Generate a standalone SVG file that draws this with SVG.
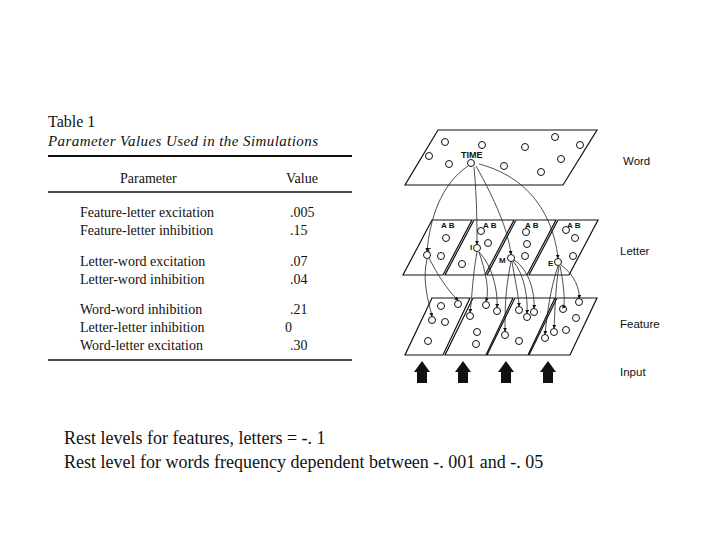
<svg xmlns="http://www.w3.org/2000/svg" width="720" height="540" viewBox="0 0 720 540">
<style>
.t{font-family:"Liberation Serif",serif;fill:#111}
.s{font-family:"Liberation Sans",Arial,sans-serif;fill:#111}
.p{fill:none;stroke:#111;stroke-width:1.2}
.c{fill:#fff;stroke:#111;stroke-width:1}
.k{fill:none;stroke:#222;stroke-width:0.8}
</style>
<defs><marker id="a" markerWidth="5" markerHeight="5" refX="4" refY="2.5" orient="auto"><path d="M0,0L5,2.5L0,5z" fill="#111"/></marker>
<path id="arr" d="M-8,0L0,-11L8,0L5,0L5,11L-5,11L-5,0z" fill="#111"/></defs>
<rect width="720" height="540" fill="#fff"/>
<g id="table">
<text class="t" x="48" y="127" font-size="16">Table 1</text>
<text class="t" x="48" y="146" font-size="15" font-style="italic" textLength="270">Parameter Values Used in the Simulations</text>
<line x1="48" y1="156" x2="352" y2="156" stroke="#111" stroke-width="2"/>
<text class="t" x="120" y="183" font-size="14">Parameter</text>
<text class="t" x="286" y="183" font-size="14">Value</text>
<line x1="48" y1="192" x2="352" y2="192" stroke="#111" stroke-width="1.5"/>
<g font-size="14">
<text class="t" x="80" y="217">Feature-letter excitation</text><text class="t" x="290" y="217">.005</text>
<text class="t" x="80" y="235">Feature-letter inhibition</text><text class="t" x="290" y="235">.15</text>
<text class="t" x="80" y="266">Letter-word excitation</text><text class="t" x="290" y="266">.07</text>
<text class="t" x="80" y="284">Letter-word inhibition</text><text class="t" x="290" y="284">.04</text>
<text class="t" x="80" y="314">Word-word inhibition</text><text class="t" x="290" y="314">.21</text>
<text class="t" x="80" y="332">Letter-letter inhibition</text><text class="t" x="285" y="332">0</text>
<text class="t" x="80" y="350">Word-letter excitation</text><text class="t" x="290" y="350">.30</text>
</g>
<line x1="48" y1="360" x2="352" y2="360" stroke="#111" stroke-width="1.5"/>
</g>
<g id="word">
<path class="p" d="M438,130L597,130L563,185L405,185z"/>
<g class="c"><circle cx="445" cy="142" r="3.5"/><circle cx="429" cy="156" r="3.5"/><circle cx="449" cy="164" r="3.5"/><circle cx="482" cy="145" r="3.5"/><circle cx="525" cy="147" r="3.5"/><circle cx="555" cy="137" r="3.5"/><circle cx="580" cy="145" r="3.5"/><circle cx="561" cy="159" r="3.5"/><circle cx="504" cy="166" r="3.5"/><circle cx="541" cy="172" r="3.5"/><circle cx="471" cy="163" r="3.5"/></g>
<text class="s" x="461" y="158" font-size="9" font-weight="bold">TIME</text>
<text class="s" x="623" y="165" font-size="11.5">Word</text>
</g>
<g id="letter">
<g class="p"><path d="M432,220L472,220L443,275L403,275z"/><path d="M474,220L514,220L485,275L445,275z"/><path d="M516,220L556,220L527,275L487,275z"/><path d="M558,220L598,220L569,275L529,275z"/></g>
<g class="s" font-size="8" font-weight="bold"><text x="441" y="228">A B</text><text x="483" y="228">A B</text><text x="525" y="228">A B</text><text x="567" y="228">A B</text>
<text x="426" y="253">T</text><text x="470" y="250">I</text><text x="499" y="263">M</text><text x="548" y="266">E</text></g>
<g class="c"><circle cx="427" cy="255" r="3.5"/><circle cx="446" cy="238" r="3.5"/><circle cx="441" cy="256" r="3.5"/><circle cx="477" cy="248" r="3.5"/><circle cx="481" cy="231" r="3.5"/><circle cx="488" cy="243" r="3.5"/><circle cx="462" cy="264" r="3.5"/><circle cx="511" cy="258" r="3.5"/><circle cx="526" cy="232" r="3.5"/><circle cx="527" cy="244" r="3.5"/><circle cx="525" cy="256" r="3.5"/><circle cx="558" cy="262" r="3.5"/><circle cx="566" cy="230" r="3.5"/><circle cx="575" cy="238" r="3.5"/><circle cx="573" cy="256" r="3.5"/></g>
<text class="s" x="620" y="255" font-size="11.5">Letter</text>
</g>
<g id="feature">
<g class="p"><path d="M432,298L470,298L443,355L405,355z"/><path d="M473,298L513,298L486,355L445,355z"/><path d="M515,298L555,298L528,355L487,355z"/><path d="M557,298L597,298L570,355L529,355z"/></g>
<g class="c"><circle cx="441" cy="306" r="3.5"/><circle cx="458" cy="304" r="3.5"/><circle cx="432" cy="320" r="3.5"/><circle cx="445" cy="322" r="3.5"/><circle cx="428" cy="341" r="3.5"/><circle cx="486" cy="305" r="3.5"/><circle cx="497" cy="311" r="3.5"/><circle cx="470" cy="316" r="3.5"/><circle cx="477" cy="332" r="3.5"/><circle cx="476" cy="344" r="3.5"/><circle cx="534" cy="312" r="3.5"/><circle cx="527" cy="317" r="3.5"/><circle cx="505" cy="335" r="3.5"/><circle cx="519" cy="341" r="3.5"/><circle cx="519" cy="310" r="3.5"/><circle cx="579" cy="302" r="3.5"/><circle cx="563" cy="309" r="3.5"/><circle cx="576" cy="318" r="3.5"/><circle cx="566" cy="330" r="3.5"/><circle cx="545" cy="338" r="3.5"/><circle cx="554" cy="332" r="3.5"/></g>
<text class="s" x="620" y="328" font-size="11.5">Feature</text>
</g>
<g id="input">
<use href="#arr" x="422" y="372"/><use href="#arr" x="463" y="372"/><use href="#arr" x="506" y="372"/><use href="#arr" x="548" y="372"/>
<text class="s" x="620" y="376" font-size="11.5">Input</text>
</g>
<g id="connectors" class="k" marker-end="url(#a)">
<path d="M468,166C440,185 430,220 427,251"/>
<path d="M474,167C477,200 477,225 477,244"/>
<path d="M476,166C495,200 508,230 511,254"/>
<path d="M479,164C540,180 555,230 558,258"/>
<path d="M427,259C422,280 428,300 432,316"/>
<path d="M429,258C440,280 452,295 458,300"/>
<path d="M477,252C472,280 472,300 470,312"/>
<path d="M479,252C485,270 490,290 486,301"/>
<path d="M479,252C492,265 498,290 497,307"/>
<path d="M511,262C505,290 505,310 505,331"/>
<path d="M512,262C517,290 519,300 519,306"/>
<path d="M513,261C525,275 528,300 527,313"/>
<path d="M514,260C530,270 535,295 534,308"/>
<path d="M558,266C550,290 547,315 545,334"/>
<path d="M559,266C555,290 555,315 554,328"/>
<path d="M560,266C565,290 565,310 563,305"/>
<path d="M561,265C575,275 580,290 579,298"/>
</g>
<g id="caption">
<text class="t" x="64" y="444" font-size="18">Rest levels for features, letters = -. 1</text>
<text class="t" x="64" y="468" font-size="18">Rest level for words frequency dependent between -. 001 and -. 05</text>
</g>
</svg>
